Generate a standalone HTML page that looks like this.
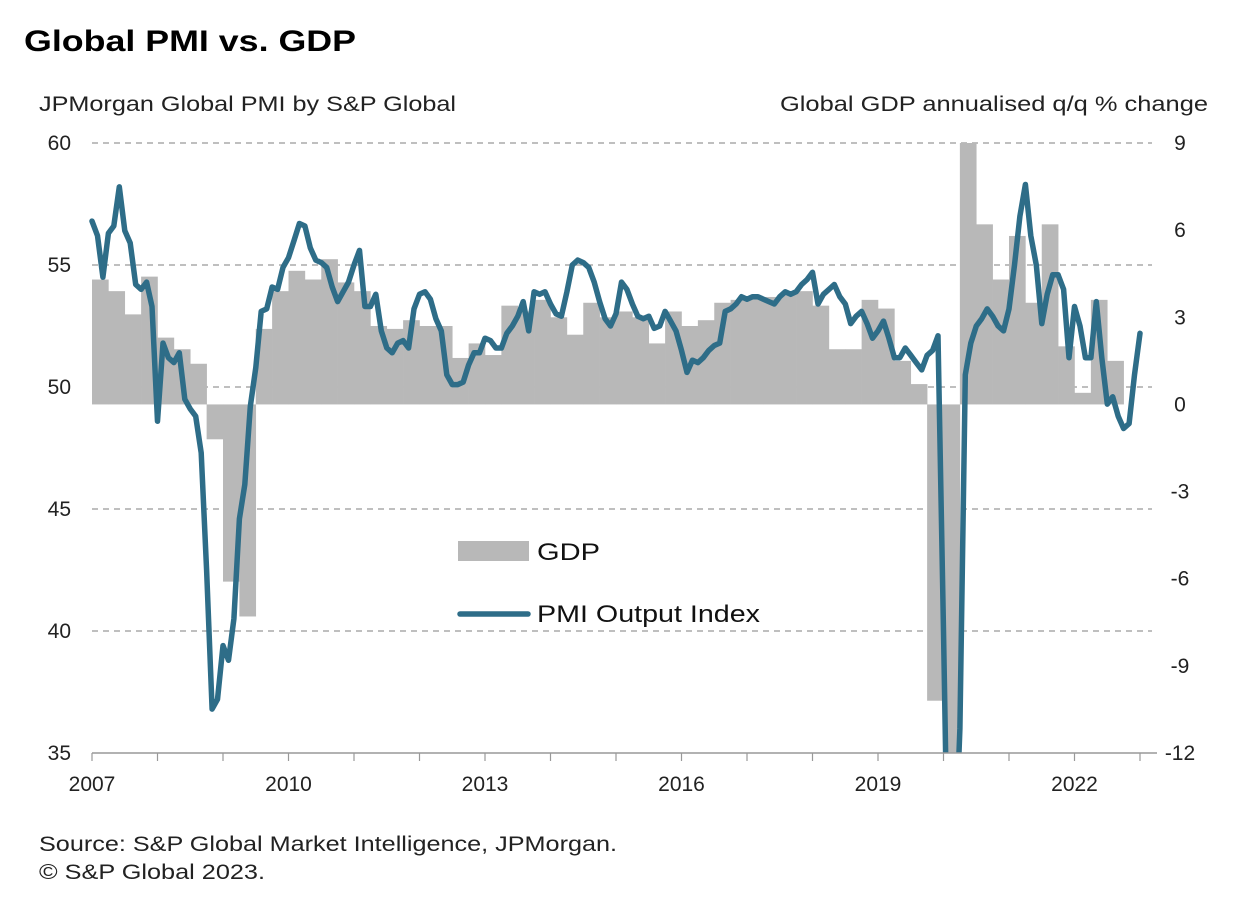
<!DOCTYPE html>
<html><head><meta charset="utf-8"><style>
html,body{margin:0;padding:0;background:#fff;width:1252px;height:902px;overflow:hidden;}
svg{display:block;font-family:"Liberation Sans",Arial,sans-serif;}
</style></head><body>
<svg id="chart" width="1252" height="902" viewBox="0 0 1252 902" xmlns="http://www.w3.org/2000/svg">
<defs><clipPath id="plotclip"><rect x="88" y="143" width="1070" height="610"/></clipPath></defs>
<text x="24" y="51" font-size="30" font-weight="bold" fill="#000" textLength="332" lengthAdjust="spacingAndGlyphs">Global PMI vs. GDP</text>
<text x="39" y="111" font-size="21" fill="#222" textLength="417" lengthAdjust="spacingAndGlyphs">JPMorgan Global PMI by S&amp;P Global</text>
<text x="1208" y="111" font-size="21" fill="#222" text-anchor="end" textLength="428" lengthAdjust="spacingAndGlyphs">Global GDP annualised q/q % change</text>
<g id="grid"></g>
<g id="bars" clip-path="url(#plotclip)"></g>
<g id="lines" clip-path="url(#plotclip)"></g>
<g id="axes"></g>
<g>
<rect x="458" y="541" width="71" height="20" fill="#b8b8b8"/>
<text x="537" y="560" font-size="24" fill="#111" textLength="63" lengthAdjust="spacingAndGlyphs">GDP</text>
<line x1="460" y1="614" x2="528" y2="614" stroke="#2e6d88" stroke-width="5.5" stroke-linecap="round"/>
<text x="537" y="622" font-size="24" fill="#111" textLength="223" lengthAdjust="spacingAndGlyphs">PMI Output Index</text>
</g>
<text x="39" y="851" font-size="21" fill="#222" textLength="578" lengthAdjust="spacingAndGlyphs">Source: S&amp;P Global Market Intelligence, JPMorgan.</text>
<text x="39" y="879" font-size="21" fill="#222" textLength="226" lengthAdjust="spacingAndGlyphs">© S&amp;P Global 2023.</text>
</svg>
<script>
const years = ["2007","2010","2013","2016","2019","2022"];
const leftTicks = [35,40,45,50,55,60];
const rightTicks = [-12,-9,-6,-3,0,3,6,9];
const gdpValues = [4.3,3.9,3.1,4.4,2.3,1.9,1.4,-1.2,-6.1,-7.3,2.6,3.9,4.6,4.3,5.0,4.2,3.9,2.7,2.6,2.9,2.7,2.7,1.6,2.1,1.7,3.4,3.2,3.6,3.0,2.4,3.5,3.0,3.2,3.0,2.1,3.2,2.7,2.9,3.5,3.6,3.7,3.7,3.8,3.9,3.4,1.9,1.9,3.6,3.3,1.5,0.7,-10.2,-14,11,6.2,4.3,5.8,3.5,6.2,2.0,0.4,3.6,1.5];
const pmiValues = [56.8,56.2,54.5,56.3,56.6,58.2,56.4,55.9,54.2,54.0,54.3,53.3,48.6,51.8,51.2,51.0,51.4,49.5,49.1,48.8,47.3,42.5,36.8,37.2,39.4,38.8,40.5,44.6,46.0,49.2,50.8,53.1,53.2,54.1,54.0,54.9,55.3,56.0,56.7,56.6,55.7,55.2,55.1,54.9,54.1,53.5,53.9,54.3,55.0,55.6,53.3,53.3,53.8,52.3,51.6,51.4,51.8,51.9,51.6,53.2,53.8,53.9,53.6,52.8,52.3,50.5,50.1,50.1,50.2,50.9,51.4,51.4,52.0,51.9,51.6,51.6,52.2,52.5,52.9,53.5,52.3,53.9,53.8,53.9,53.4,53.0,52.9,53.9,55.0,55.2,55.1,54.9,54.3,53.5,52.8,52.5,53.0,54.3,54.0,53.4,52.9,52.8,52.9,52.4,52.5,53.1,52.7,52.3,51.5,50.6,51.1,51.0,51.2,51.5,51.7,51.8,53.1,53.2,53.4,53.7,53.6,53.7,53.7,53.6,53.5,53.4,53.7,53.9,53.8,53.9,54.2,54.4,54.7,53.4,53.8,54.0,54.2,53.7,53.4,52.6,52.9,53.1,52.6,52.0,52.3,52.7,52.0,51.2,51.2,51.6,51.3,51.0,50.7,51.3,51.5,52.1,40,27,30,36,50.5,51.8,52.5,52.8,53.2,52.9,52.5,52.3,53.2,55.0,57.0,58.3,56.2,55.0,52.6,53.8,54.6,54.6,54.0,51.2,53.3,52.5,51.2,51.2,53.5,51.2,49.3,49.6,48.8,48.3,48.5,50.5,52.2];

const NS = "http://www.w3.org/2000/svg";
const X0 = 92, YEARW = 65.5;
const xYear = y => X0 + (y - 2007) * YEARW;
const xMonth = i => X0 + i * YEARW / 12;
const xQuarter = q => X0 + q * YEARW / 4;
const yLeft = v => 143 + (60 - v) * (610 / 25);
const yRight = v => 143 + (9 - v) * (610 / 21);
function mk(tag, attrs, parent) {
  const e = document.createElementNS(NS, tag);
  for (const k in attrs) e.setAttribute(k, attrs[k]);
  parent.appendChild(e);
  return e;
}
const grid = document.getElementById('grid');
leftTicks.forEach(v => {
  if (v === 35) return;
  const l = mk('line', {x1: 92, x2: 1152, y1: yLeft(v), y2: yLeft(v), stroke: '#999', 'stroke-width': 1.2, 'stroke-dasharray': '6,5'}, grid);
  
  
});
const bars = document.getElementById('bars');
const y0 = yRight(0);
gdpValues.forEach((v, q) => {
  const yv = yRight(v);
  const r = mk('rect', {x: xQuarter(q), y: Math.min(yv, y0), width: YEARW / 4 + 0.3, height: Math.abs(yv - y0), fill: '#b8b8b8'}, bars);
  
  
});
const lines = document.getElementById('lines');
const pts = pmiValues.map((v, i) => xMonth(i).toFixed(1) + ',' + yLeft(v).toFixed(1)).join(' ');
const pl = mk('polyline', {points: pts, fill: 'none', stroke: '#2e6d88', 'stroke-width': 5.5, 'stroke-linejoin': 'round', 'stroke-linecap': 'round'}, lines);


const axes = document.getElementById('axes');
const ax = mk('line', {x1: 92, x2: 1157, y1: 753, y2: 753, stroke: '#999', 'stroke-width': 1.5}, axes);


for (let y = 2007; y <= 2023; y++) {
  const t = mk('line', {x1: xYear(y), x2: xYear(y), y1: 753, y2: 761, stroke: '#999', 'stroke-width': 1.2}, axes);
  
  
}
years.forEach(s => {
  const t = mk('text', {x: xYear(+s), y: 791, 'font-size': 21, 'text-anchor': 'middle', fill: '#222'}, axes);
  t.textContent = s;
  
  
});
leftTicks.forEach(v => {
  const t = mk('text', {x: 71, y: yLeft(v) + 7, 'font-size': 21, 'text-anchor': 'end', fill: '#222'}, axes);
  t.textContent = v;
  
  
});
rightTicks.forEach(v => {
  const t = mk('text', {x: 1180, y: yRight(v) + 7, 'font-size': 21, 'text-anchor': 'middle', fill: '#222'}, axes);
  t.textContent = v;
  
  
});
</script>
</body></html>
